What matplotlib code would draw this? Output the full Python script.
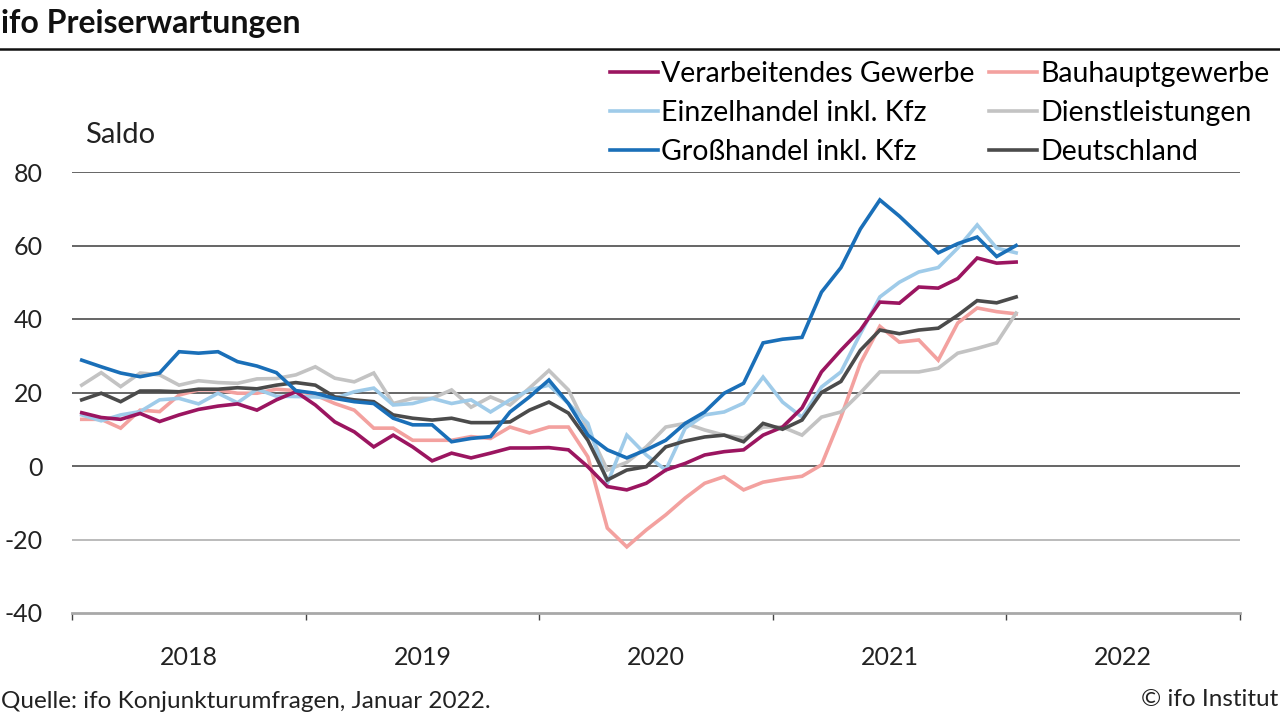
import numpy as np
import matplotlib.pyplot as plt

plt.rcParams['font.family'] = ['Lato', 'DejaVu Sans']

# monthly values, Jan 2018 .. Jan 2022
verarbeitendes = [14.5, 13.2, 12.7, 14.3, 12.1, 13.9, 15.4, 16.3, 16.9, 15.2, 18, 20.2,
                  16.6, 12, 9.3, 5.2, 8.4, 5.2, 1.4, 3.5, 2.2, 3.5, 4.9, 4.9,
                  5, 4.4, -0.2, -5.6, -6.5, -4.7, -1.1, 0.7, 3, 3.9, 4.4, 8.4,
                  10.6, 15.8, 25.6, 31.5, 37, 44.6, 44.3, 48.7, 48.4, 51, 56.6, 55.2, 55.5]
einzelhandel = [13.9, 12.3, 13.9, 14.8, 18, 18.4, 16.9, 19.8, 17.2, 20.9, 19, 18.9,
                18.8, 18.4, 20.2, 21.2, 16.6, 17, 18.4, 17, 18, 14.7, 18, 20.7,
                22, 17, 11.6, -4.7, 8.4, 3, -1.1, 10.3, 13.9, 14.7, 17.1, 24.2,
                17.4, 13.3, 21.5, 25.6, 36, 46, 50, 52.8, 54, 59.3, 65.6, 59.3, 58]
grosshandel = [28.8, 27, 25.3, 24.3, 25.3, 31.1, 30.7, 31.1, 28.4, 27.2, 25.4, 20.5,
               19.8, 18.4, 17.5, 17, 13, 11.2, 11.2, 6.6, 7.5, 8, 14.7, 18.8,
               23.4, 17, 8.4, 4.4, 2.2, 4.4, 7, 11.6, 14.7, 19.8, 22.5, 33.5,
               34.5, 35, 47.3, 54, 64.5, 72.4, 68, 63, 58, 60.5, 62.3, 57, 60]
bauhaupt = [12.7, 12.7, 10.3, 15.2, 14.8, 19.3, 20.7, 20.7, 19.8, 19.8, 20.9, 20.5,
            19.3, 17, 15.2, 10.3, 10.3, 7, 7, 7, 8, 7.5, 10.6, 9,
            10.6, 10.6, 2.5, -16.9, -22, -17.4, -13.3, -8.7, -4.7, -2.9, -6.5, -4.4,
            -3.5, -2.8, 0.3, 13.3, 28, 38, 33.7, 34.3, 28.8, 38.9, 43, 42, 41.4]
dienstleistungen = [22, 25.4, 21.6, 25.3, 24.8, 22, 23.2, 22.7, 22.5, 23.7, 23.8, 24.8,
                    27, 23.9, 22.9, 25.3, 17, 18.4, 18.4, 20.7, 16, 18.8, 16.6, 21.2,
                    26, 20.7, 10, -1.1, 1, 5.2, 10.6, 11.6, 9.8, 8.4, 7.6, 10.6,
                    10.6, 8.4, 13.3, 14.7, 19.9, 25.6, 25.6, 25.6, 26.6, 30.7, 32, 33.5, 41.6]
deutschland = [18, 19.8, 17.5, 20.4, 20.4, 20.2, 20.9, 20.9, 21.3, 21, 22, 22.7,
               22, 18.8, 18, 17.5, 13.9, 13, 12.5, 13, 11.8, 11.8, 12, 15.2,
               17.4, 14.4, 7, -3.8, -1.1, -0.2, 5.2, 6.8, 7.9, 8.4, 6.6, 11.6,
               10, 12.5, 20, 23, 31.5, 37, 36, 37, 37.5, 41, 45, 44.4, 46]

years = ['2018', '2019', '2020', '2021', '2022']
y_ticks = [80, 60, 40, 20, 0, -20, -40]

series = [
    ('Verarbeitendes Gewerbe', verarbeitendes, '#9b1560'),
    ('Einzelhandel inkl. Kfz', einzelhandel, '#9fcbe9'),
    ('Großhandel inkl. Kfz', grosshandel, '#1a6fb8'),
    ('Bauhauptgewerbe', bauhaupt, '#f3a19f'),
    ('Dienstleistungen', dienstleistungen, '#c3c3c3'),
    ('Deutschland', deutschland, '#4b4b4b'),
]
# draw order: light ones first
draw_order = [3, 4, 1, 0, 5, 2]

fig = plt.figure(figsize=(12.8, 7.2), dpi=100)
ax = fig.add_axes([72/1280, 1 - 613/720, (1240 - 72)/1280, (613 - 172)/720])

x = np.arange(len(deutschland)) + 0.5
lines = {}
for k in draw_order:
    name, vals, col = series[k]
    lines[k], = ax.plot(x, vals, color=col, lw=2.6, label=name, solid_joinstyle='miter')

ax.set_xlim(0, 60)
ax.set_ylim(-40, 80)
ax.set_yticks(y_ticks)
ax.set_yticklabels([str(v) for v in y_ticks])
ax.tick_params(axis='y', length=0, pad=21, labelsize=18, labelcolor='#222222')
for v in y_ticks[:-1]:
    ax.axhline(v, color='#a8a8a8' if v == -20 else '#3c3c3c', lw=1.1, zorder=0.5)

ax.set_xticks(np.arange(0, 61, 12))
ax.set_xticklabels([])
ax.set_xticks(np.arange(6, 60, 12), minor=True)
ax.set_xticklabels(years, minor=True)
ax.tick_params(axis='x', which='major', length=5, width=1, color='#444444')
ax.tick_params(axis='x', which='minor', length=0, pad=24, labelsize=18, labelcolor='#222222')

for s in ['top', 'right', 'left']:
    ax.spines[s].set_visible(False)
ax.spines['bottom'].set_color('#a8a8a8')
ax.spines['bottom'].set_linewidth(2)

handles = [lines[k] for k in range(6)]
fig.legend(handles, [s[0] for s in series], loc='upper left',
           bbox_to_anchor=(610/1280, 1 - 61/720), ncol=2, frameon=False,
           fontsize=20.5, handlelength=1.7, handletextpad=0.1, columnspacing=0.5,
           labelspacing=0.46, borderpad=0, borderaxespad=0)

fig.text(85/1280, 1 - 135/720, 'Saldo', fontsize=21, va='center', color='#222222')
fig.text(1/1280, 1 - 23/720, 'ifo Preiserwartungen', fontsize=23, fontweight='bold',
         va='center', color='#111111')
fig.add_artist(plt.Line2D([0, 1], [1 - 49/720, 1 - 49/720], color='#111111', lw=1.8))
fig.text(1/1280, 1 - 702/720, 'Quelle: ifo Konjunkturumfragen, Januar 2022.', fontsize=17.5,
         va='center', color='#222222')
fig.text(1278/1280, 1 - 700/720, '© ifo Institut', fontsize=17.5, va='center', ha='right',
         color='#222222')

fig.savefig('out.png', dpi=100)
